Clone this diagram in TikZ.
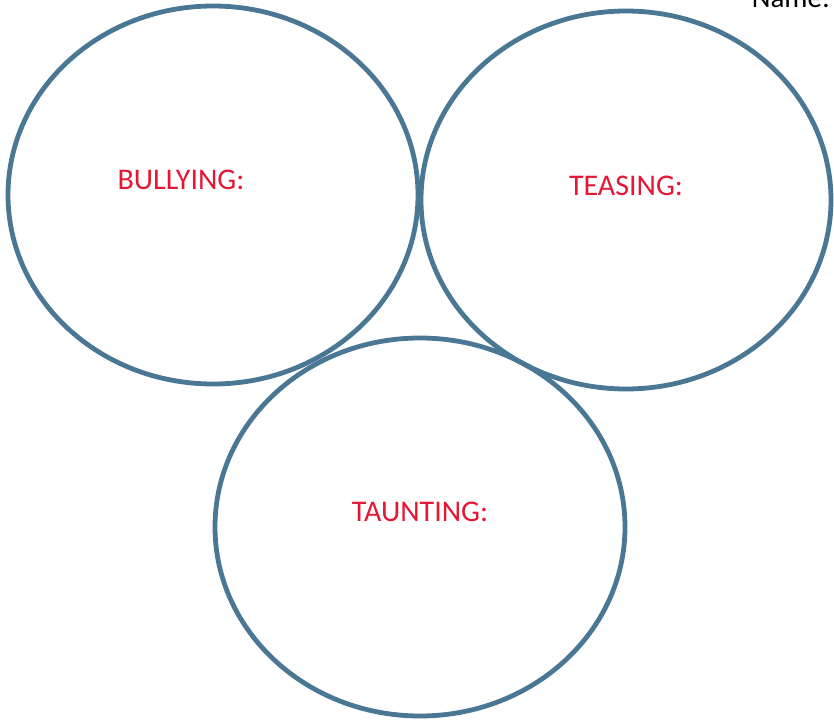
\documentclass[tikz,border=0pt]{standalone}
\usepackage{fontspec}
\setmainfont{Carlito}
\usetikzlibrary{shapes.geometric}
\definecolor{ringblue}{RGB}{74,120,148}
\definecolor{labelred}{RGB}{227,24,55}
\begin{document}
\begin{tikzpicture}[x=1pt,y=-1pt,
  ring/.style={draw=ringblue,line width=4.8pt,ellipse,minimum width=410pt,minimum height=378pt,inner sep=0pt,outer sep=0pt},
  lbl/.style={text=labelred,font=\fontsize{30}{32}\selectfont,inner sep=0pt}]
\useasboundingbox (0,0) rectangle (834,725);
\clip (0,0) rectangle (834,725);
\node[ring] (bully) at (213,195) {};
\node[ring] (tease) at (626,200) {};
\node[ring] (taunt) at (420,527) {};
\node[lbl] (tb) at (181,180) {BULLYING:};
\node[lbl] (tt) at (626,186) {TEASING:};
\node[lbl] (ta) at (420,512) {TAUNTING:};
\node[font=\fontsize{29}{31}\selectfont,inner sep=0pt,anchor=base east] (name) at (830,8) {Name:};
\end{tikzpicture}
\end{document}
